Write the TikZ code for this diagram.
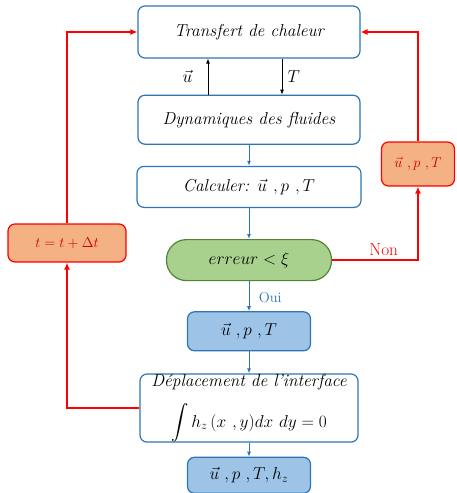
\documentclass[tikz,border=0pt]{standalone}
\usepackage{amsmath}
\usepackage{amssymb}
\usetikzlibrary{positioning,arrows.meta}

\definecolor{bleu}{RGB}{46,117,182}
\definecolor{bleuclair}{RGB}{157,195,230}
\definecolor{vert}{RGB}{84,130,53}
\definecolor{vertclair}{RGB}{169,209,142}
\definecolor{orange}{RGB}{244,177,131}

\tikzset{
  boite/.style={draw=bleu, line width=1.2pt, rounded corners=7pt, fill=white,
    font=\LARGE\itshape, align=center, inner sep=2pt},
  resultat/.style={boite, fill=bleuclair, font=\LARGE},
  test/.style={draw=vert, line width=1.2pt, fill=vertclair, rounded corners=20pt,
    font=\LARGE},
  boucle/.style={draw=red, line width=1.2pt, rounded corners=7pt, fill=orange,
    text=red!80!black, font=\Large},
  fleche/.style={-{Latex[length=5pt,width=4pt]}, bleu, line width=1pt},
  lien/.style={-{Latex[length=5pt,width=4pt]}, black, line width=0.8pt},
  retour/.style={-{Latex[length=7pt,width=6pt]}, red, line width=2pt}
}

\begin{document}
\begin{tikzpicture}[x=1pt, y=1pt]
  \useasboundingbox (0,0) rectangle (456,-493);

  \node[boite, minimum width=222pt, minimum height=52pt] (trans) at (249,-32) {Transfert de chaleur};
  \node[boite, minimum width=222pt, minimum height=49pt, below=36pt of trans] (dyn) {Dynamiques des fluides};
  \node[boite, minimum width=224pt, minimum height=41pt, below=21pt of dyn] (calc) {Calculer: $\vec{u}\ ,p\ ,T$};
  \node[test, minimum width=165pt, minimum height=41pt, below=31pt of calc] (err) {$erreur<\xi$};
  \node[resultat, minimum width=123pt, minimum height=39pt, below=30pt of err] (upt) {$\vec{u}\ ,p\ ,T$};
  \node[boite, minimum width=218pt, minimum height=66pt, inner sep=0pt, below=22pt of upt] (depl)
    {D\'eplacement de l'interface\\[13pt] $\displaystyle\int h_z\,(x\ ,y)dx\ dy=0$};
  \node[resultat, minimum width=123pt, minimum height=36pt, below=14pt of depl] (fin) {$\vec{u}\ ,p\ ,T, h_z$};

  \node[boucle, minimum width=118pt, minimum height=38pt] (pas) at (67,-243) {$t=t+\Delta t$};
  \node[boucle, minimum width=73pt, minimum height=44pt] (iter) at (418,-164) {$\vec{u}\ ,p\ ,T$};

  % couplage
  \draw[lien] ([xshift=-41pt]dyn.north) -- ([xshift=-41pt]trans.south) node[midway, left=12pt, font=\LARGE] {$\vec{u}$};
  \draw[lien] ([xshift=33pt]trans.south) -- ([xshift=33pt]dyn.north) node[midway, right=2pt, font=\LARGE] {$T$};

  \draw[fleche] (dyn) -- (calc);
  \draw[fleche] (calc) -- (err);
  \draw[fleche] (err) -- (upt) node[pos=0.55, right=6pt, text=bleu, font=\Large] {Oui};
  \draw[fleche] (upt) -- (depl);
  \draw[fleche] (depl) -- (fin);

  % boucles
  \draw[retour] (err.east) -| (iter) node[pos=0.3, above, font=\LARGE] {Non};
  \draw[retour] (iter.north) |- (trans.east);
  \draw[retour] (depl.west) -| (pas);
  \draw[retour] (pas.north) |- (trans.west);
\end{tikzpicture}
\end{document}
